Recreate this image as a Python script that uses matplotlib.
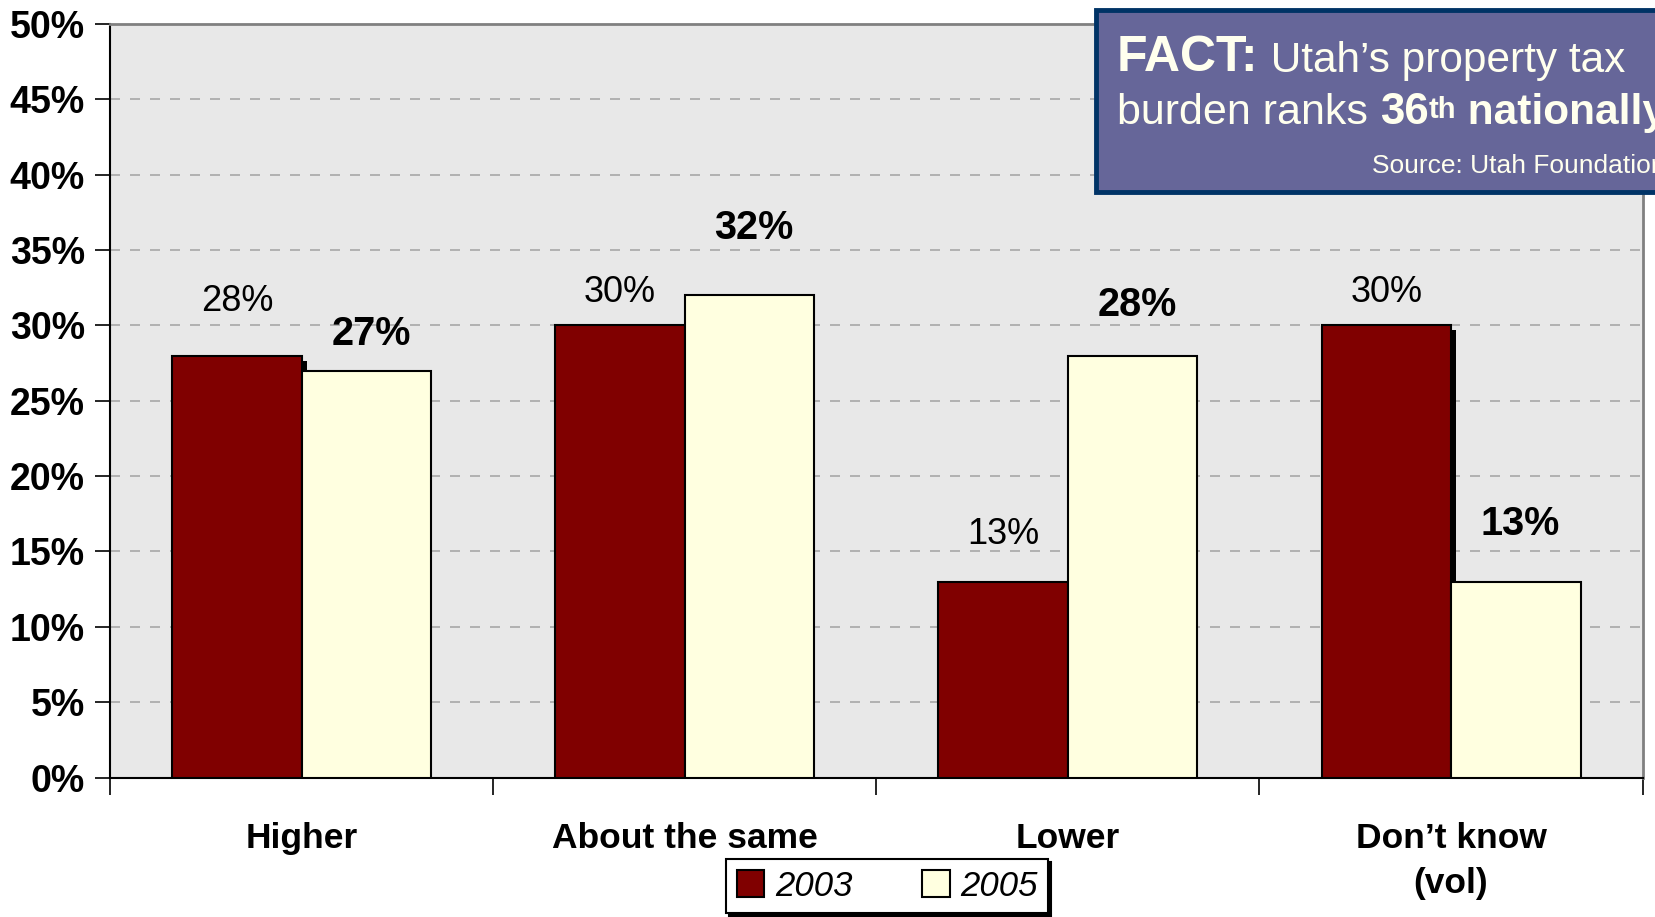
import matplotlib
import matplotlib.pyplot as plt
import matplotlib.patheffects as pe
from matplotlib.patches import Rectangle
from matplotlib.text import Annotation
import numpy as np

matplotlib.use("Agg")

plt.rcParams["font.family"] = ["Liberation Sans", "DejaVu Sans"]

# Data
categories = ["Higher", "About the same", "Lower", "Don\u2019t know\n(vol)"]
values_2003 = [28, 30, 13, 30]
values_2005 = [27, 32, 28, 13]
series_names = ["2003", "2005"]

# label offsets above bar (in % units), to mimic the original placement
label_off_2003 = [3.55, 2.2, 3.15, 2.2]
label_off_2005 = [2.4, 4.45, 3.35, 3.85]

color_2003 = "#800000"
color_2005 = "#FFFFE0"

fig = plt.figure(figsize=(16.55, 9.17), dpi=100)
ax = fig.add_axes([0.0665, 0.152, 0.926, 0.822])
ax.set_facecolor("#E8E8E8")

x = np.arange(len(categories))
w = 0.338

shadow = [pe.SimplePatchShadow(offset=(3.6, -3.6), shadow_rgbFace="black", alpha=1.0), pe.Normal()]
bars1 = ax.bar(x - w / 2, values_2003, w, color=color_2003, edgecolor="black",
               linewidth=1.5, label=series_names[0], zorder=3)
for b in bars1:
    b.set_path_effects(shadow)
bars2 = ax.bar(x + w / 2, values_2005, w, color=color_2005, edgecolor="black",
               linewidth=1.5, label=series_names[1], zorder=4)

# value labels
for i in range(len(categories)):
    ax.text(x[i] - w / 2, values_2003[i] + label_off_2003[i], f"{values_2003[i]}%",
            ha="center", va="center", fontsize=26, zorder=5)
    ax.text(x[i] + w / 2 + 0.012, values_2005[i] + label_off_2005[i], f"{values_2005[i]}%",
            ha="center", va="center", fontsize=28.5, fontweight="bold", zorder=5)

# axes
ax.set_xlim(-0.5, len(categories) - 0.5)
ax.set_ylim(0, 50)
ax.set_yticks(np.arange(0, 51, 5))
ax.set_yticklabels([f"{v}%" for v in range(0, 51, 5)], fontsize=27, fontweight="bold")
ax.tick_params(axis="y", length=11, width=1.2, pad=7)

ax.set_xticks(x)
ax.set_xticklabels(categories, fontsize=25.5, fontweight="bold", linespacing=1.45)
ax.tick_params(axis="x", which="major", length=0, pad=32)
ax.set_xticks(np.arange(-0.5, len(categories), 1), minor=True)
ax.tick_params(axis="x", which="minor", length=12, width=1.2)

for y in range(5, 50, 5):
    ax.axhline(y, color="#A8A8A8", linestyle=(0, (6, 6)), linewidth=1.2, zorder=1)

ax.spines["left"].set_color("black")
ax.spines["left"].set_linewidth(1.5)
ax.spines["bottom"].set_color("black")
ax.spines["bottom"].set_linewidth(1.5)
ax.spines["top"].set_color("#808080")
ax.spines["top"].set_linewidth(2)
ax.spines["right"].set_color("#808080")
ax.spines["right"].set_linewidth(2)

# legend
leg = ax.legend(loc="center", bbox_to_anchor=(0.536, 0.0335), bbox_transform=fig.transFigure,
                ncol=2, frameon=True, fancybox=False, shadow={"color": "black", "alpha": 1},
                prop={"size": 25, "style": "italic"}, handlelength=0.8, handleheight=0.8,
                handletextpad=0.3, columnspacing=2.0, borderpad=0.3, borderaxespad=0)
leg.get_frame().set_edgecolor("black")
leg.get_frame().set_linewidth(1.5)
for h in leg.legend_handles:
    h.set_path_effects([])

# FACT box (runs off the right edge, as in the original slide)
fig.add_artist(Rectangle((0.662, 0.791), 0.36, 0.198, transform=fig.transFigure,
                         facecolor="#666699", edgecolor="#003366", linewidth=3.5, zorder=10))
txt_color = "#FFFFEE"


def chain(text, ref, xy, **kw):
    a = Annotation(text, xy=xy, xycoords=ref, color=txt_color, annotation_clip=False, **kw)
    a.set_zorder(11)
    fig.add_artist(a)
    return a


t1 = fig.text(0.675, 0.9229, "FACT:", fontsize=36, fontweight="bold", color=txt_color,
              va="baseline", zorder=11)
chain(" Utah\u2019s property tax", t1, (1, 0), va="bottom", fontsize=30.5)
t3 = fig.text(0.675, 0.8653, "burden ranks ", fontsize=31, color=txt_color,
              va="baseline", zorder=11)
t4 = chain("36", t3, (1, 0), va="bottom", fontsize=31.5, fontweight="bold")
t5 = chain("th", t4, (1, 1), va="top", xytext=(0, -3), textcoords="offset points",
           fontsize=21, fontweight="bold")
chain(" nationally", (t5, t4), (1, 0), va="bottom", fontsize=30.5, fontweight="bold")
fig.text(0.829, 0.811, "Source: Utah Foundation", fontsize=19, color=txt_color,
         va="baseline", zorder=11)

plt.savefig("out.png", dpi=100)
